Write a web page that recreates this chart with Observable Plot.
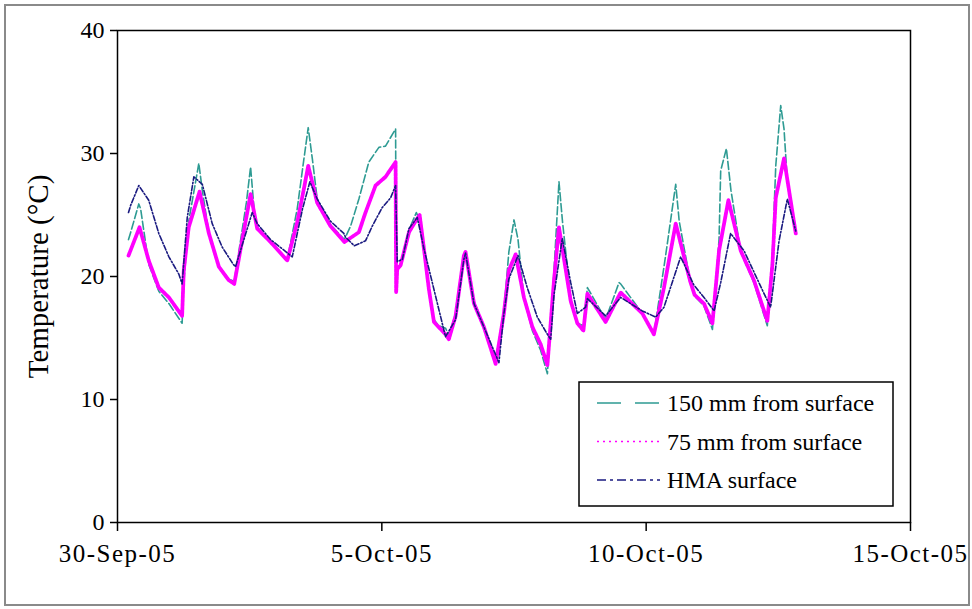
<!DOCTYPE html>
<html>
<head>
<meta charset="utf-8">
<script src="https://cdn.jsdelivr.net/npm/d3@7"></script>
<script src="https://cdn.jsdelivr.net/npm/@observablehq/plot@0.6"></script>
<style>
  html, body { margin: 0; padding: 0; background: #fff; }
  #wrap { position: relative; width: 972px; height: 609px; overflow: hidden; }
  #border { position: absolute; left: 4px; top: 4px; width: 962px; height: 598px;
            border: 2px solid #8a8a8a; pointer-events: none; }
  #wrap svg { position: absolute; left: 0; top: 0; }
  .xaxis text { letter-spacing: 1.5px; }
</style>
</head>
<body>
<div id="wrap"><div id="border"></div></div>
<script>
// Pavement temperatures, 30 Sep – 12 Oct 2005 (time "MM-DD HH:MM", °C)
const depth150 = [
  ["09-30 05:00", 23.0], ["09-30 06:00", 23.6], ["09-30 09:40", 25.9], ["09-30 10:30", 25.5],
  ["09-30 14:10", 21.0], ["09-30 18:45", 18.8], ["09-30 23:20", 17.8], ["10-01 05:20", 16.2],
  ["10-01 06:05", 19.5], ["10-01 08:20", 24.5], ["10-01 12:55", 29.2], ["10-01 14:30", 27.0],
  ["10-01 17:30", 23.5], ["10-01 22:00", 20.8], ["10-02 02:30", 19.8], ["10-02 05:00", 19.6],
  ["10-02 10:30", 26.0], ["10-02 12:25", 28.9], ["10-02 14:00", 25.5], ["10-02 15:25", 24.0],
  ["10-02 21:30", 22.8], ["10-03 05:05", 21.4], ["10-03 09:35", 25.5], ["10-03 12:35", 29.5],
  ["10-03 14:35", 32.1], ["10-03 16:30", 29.5], ["10-03 18:40", 26.3], ["10-04 00:40", 24.2],
  ["10-04 07:00", 23.0], ["10-04 09:50", 24.1], ["10-04 13:35", 26.3], ["10-04 18:05", 29.3],
  ["10-04 22:40", 30.5], ["10-05 01:40", 30.6], ["10-05 06:15", 32.0], ["10-05 06:30", 20.6],
  ["10-05 08:30", 21.0], ["10-05 12:20", 23.8], ["10-05 15:40", 25.2], ["10-05 17:10", 24.6],
  ["10-05 19:05", 22.2], ["10-05 21:20", 19.0], ["10-05 23:40", 16.5], ["10-06 01:45", 16.0],
  ["10-06 04:55", 15.8], ["10-06 06:25", 15.2], ["10-06 09:30", 17.0], ["10-06 13:15", 21.7],
  ["10-06 14:00", 22.0], ["10-06 17:50", 18.0], ["10-06 22:20", 16.0], ["10-07 03:40", 13.2],
  ["10-07 07:25", 17.2], ["10-07 09:40", 22.0], ["10-07 12:00", 24.6], ["10-07 13:50", 23.0],
  ["10-07 16:30", 18.3], ["10-07 20:20", 15.6], ["10-08 00:05", 14.0], ["10-08 03:10", 12.1],
  ["10-08 06:10", 20.5], ["10-08 08:25", 27.7], ["10-08 10:00", 24.5], ["10-08 13:45", 18.2],
  ["10-08 16:45", 16.2], ["10-08 19:30", 16.0], ["10-08 21:20", 19.1], ["10-09 05:35", 16.5],
  ["10-09 11:40", 19.5], ["10-09 12:25", 19.4], ["10-09 22:15", 17.0], ["10-10 03:30", 15.3],
  ["10-10 08:50", 21.7], ["10-10 13:25", 27.5], ["10-10 15:00", 24.5], ["10-10 20:00", 19.6],
  ["10-10 22:00", 18.4], ["10-11 02:15", 17.6], ["10-11 06:05", 15.7], ["10-11 09:05", 23.0],
  ["10-11 09:50", 28.6], ["10-11 12:25", 30.4], ["10-11 14:30", 27.0], ["10-11 18:55", 22.0],
  ["10-12 00:55", 19.5], ["10-12 07:00", 16.0], ["10-12 09:20", 22.0], ["10-12 10:50", 29.0],
  ["10-12 13:05", 33.9], ["10-12 14:35", 32.0], ["10-12 16:00", 28.0], ["10-12 19:55", 23.5]
];

const depth75 = [
  ["09-30 05:00", 21.7], ["09-30 10:00", 24.0], ["09-30 14:10", 21.3], ["09-30 18:45", 19.1],
  ["09-30 23:20", 18.3], ["10-01 05:20", 16.8], ["10-01 06:05", 20.5], ["10-01 08:20", 24.0],
  ["10-01 13:15", 26.9], ["10-01 17:30", 23.5], ["10-01 22:00", 20.8], ["10-02 02:30", 19.7],
  ["10-02 05:00", 19.4], ["10-02 12:25", 26.7], ["10-02 15:25", 23.9], ["10-02 21:30", 22.8],
  ["10-03 05:05", 21.3], ["10-03 09:35", 24.4], ["10-03 12:35", 27.1], ["10-03 14:35", 29.0],
  ["10-03 18:40", 26.0], ["10-04 00:40", 24.1], ["10-04 07:00", 22.8], ["10-04 13:35", 23.6],
  ["10-04 16:35", 25.2], ["10-04 21:10", 27.4], ["10-05 01:40", 28.1], ["10-05 06:15", 29.3],
  ["10-05 06:30", 18.7], ["10-05 07:00", 20.6], ["10-05 08:30", 20.9], ["10-05 12:20", 23.6],
  ["10-05 15:40", 24.6], ["10-05 17:10", 25.0], ["10-05 19:05", 22.3], ["10-05 21:20", 19.0],
  ["10-05 23:40", 16.3], ["10-06 04:55", 15.3], ["10-06 06:25", 14.9], ["10-06 09:30", 16.8],
  ["10-06 13:15", 21.7], ["10-06 14:00", 22.0], ["10-06 17:50", 17.8], ["10-06 22:20", 15.9],
  ["10-07 03:40", 12.9], ["10-07 07:25", 17.0], ["10-07 09:40", 20.5], ["10-07 12:45", 21.8],
  ["10-07 16:30", 18.3], ["10-07 20:20", 15.9], ["10-08 00:05", 14.5], ["10-08 03:10", 12.8],
  ["10-08 06:10", 19.7], ["10-08 08:25", 24.0], ["10-08 13:45", 18.0], ["10-08 16:45", 16.2],
  ["10-08 19:30", 15.6], ["10-08 21:20", 18.6], ["10-09 05:35", 16.3], ["10-09 12:25", 18.7],
  ["10-09 22:15", 17.0], ["10-10 03:30", 15.3], ["10-10 08:05", 19.1], ["10-10 13:25", 24.3],
  ["10-10 20:00", 19.6], ["10-10 22:00", 18.5], ["10-11 02:15", 17.8], ["10-11 06:05", 16.2],
  ["10-11 09:05", 22.1], ["10-11 13:20", 26.2], ["10-11 18:55", 22.1], ["10-12 00:55", 19.7],
  ["10-12 07:00", 16.4], ["10-12 09:20", 21.0], ["10-12 10:50", 26.4], ["10-12 14:35", 29.6],
  ["10-12 19:55", 23.5]
];

const hmaSurface = [
  ["09-30 05:00", 25.2], ["09-30 06:00", 25.8], ["09-30 09:40", 27.4], ["09-30 14:10", 26.2],
  ["09-30 18:45", 23.5], ["09-30 23:20", 21.6], ["10-01 03:50", 20.2], ["10-01 05:20", 19.4],
  ["10-01 07:40", 24.8], ["10-01 10:40", 28.1], ["10-01 14:30", 27.5], ["10-01 19:00", 24.3],
  ["10-01 23:30", 22.4], ["10-02 04:30", 21.0], ["10-02 05:35", 20.8], ["10-02 13:10", 25.2],
  ["10-02 15:25", 24.3], ["10-02 21:30", 23.0], ["10-03 07:20", 21.6], ["10-03 12:00", 25.5],
  ["10-03 15:20", 27.7], ["10-03 18:40", 26.3], ["10-04 00:40", 24.5], ["10-04 06:45", 23.5],
  ["10-04 07:30", 23.2], ["10-04 11:30", 22.5], ["10-04 16:35", 22.9], ["10-04 19:40", 24.1],
  ["10-05 00:10", 25.6], ["10-05 04:00", 26.4], ["10-05 06:15", 27.4], ["10-05 07:00", 21.2],
  ["10-05 09:20", 21.4], ["10-05 12:20", 23.9], ["10-05 16:05", 24.8], ["10-05 19:05", 22.3],
  ["10-06 04:55", 15.1], ["10-06 09:30", 16.5], ["10-06 13:15", 21.4], ["10-06 14:00", 21.9],
  ["10-06 17:50", 17.8], ["10-06 22:20", 15.9], ["10-07 05:10", 13.0], ["10-07 07:25", 17.0],
  ["10-07 09:40", 19.8], ["10-07 13:50", 21.7], ["10-07 18:00", 19.1], ["10-07 22:35", 16.7],
  ["10-08 03:10", 15.3], ["10-08 04:40", 14.9], ["10-08 06:10", 18.5], ["10-08 09:55", 23.1],
  ["10-08 13:45", 19.5], ["10-08 16:45", 17.0], ["10-08 20:30", 17.5], ["10-08 21:20", 18.2],
  ["10-09 05:35", 16.8], ["10-09 12:25", 18.3], ["10-09 22:15", 17.2], ["10-10 04:20", 16.7],
  ["10-10 08:05", 17.5], ["10-10 15:40", 21.6], ["10-10 21:40", 19.3], ["10-11 02:15", 18.3],
  ["10-11 06:50", 17.2], ["10-11 09:50", 19.5], ["10-11 14:20", 23.5], ["10-11 20:25", 22.1],
  ["10-12 04:45", 18.9], ["10-12 08:30", 17.5], ["10-12 12:20", 22.9], ["10-12 16:05", 26.3],
  ["10-12 19:55", 23.7]
];

const xTickLabels = ["2005-09-30", "2005-10-05", "2005-10-10", "2005-10-15"];
const yTicks = [0, 10, 20, 30, 40];

const seriesNames = ["150 mm from surface", "75 mm from surface", "HMA surface"];
const seriesColors = ["#2e9b93", "#ff00ff", "#1a1a80"];

const parseTime = d3.utcParse("%Y-%m-%d %H:%M");
const parseDay = d3.utcParse("%Y-%m-%d");
const toRows = (arr) => arr.map(([t, v]) => ({ time: parseTime("2005-" + t), value: v }));
const rows150 = toRows(depth150);
const rows75 = toRows(depth75);
const rowsHMA = toRows(hmaSurface);
const xTicks = xTickLabels.map(parseDay);
const fmt = d3.utcFormat("%-d-%b-%y");

const serif = "'Liberation Serif', 'Times New Roman', serif";

const chart = Plot.plot({
  width: 972,
  height: 609,
  marginLeft: 117,
  marginRight: 62,
  marginTop: 30,
  marginBottom: 87,
  style: { fontFamily: serif, fontSize: "24px", color: "#000", background: "transparent", overflow: "visible" },
  x: { type: "utc", domain: [xTicks[0], xTicks[3]] },
  y: { domain: [0, 40] },
  marks: [
    Plot.frame({ stroke: "#000", strokeWidth: 1.5 }),
    Plot.axisY({ ticks: yTicks, tickSize: 7, tickPadding: 6, label: null, fontSize: 24, strokeWidth: 1.5 }),
    Plot.axisX({ ticks: xTicks, tickSize: 9, tickPadding: 13, label: null, fontSize: 25,
                 tickFormat: fmt, strokeWidth: 1.5, className: "xaxis" }),
    Plot.text(["Temperature (°C)"], { frameAnchor: "left", textAnchor: "middle", rotate: -90,
                                      dx: -79, fontSize: 29 }),
    Plot.line(rows150, { x: "time", y: "value", stroke: seriesColors[0], strokeWidth: 1.6,
                         strokeDasharray: "8 3" }),
    Plot.line(rows75, { x: "time", y: "value", stroke: seriesColors[1], strokeWidth: 3.8,
                        strokeDasharray: "3 1" }),
    Plot.line(rowsHMA, { x: "time", y: "value", stroke: seriesColors[2], strokeWidth: 1.6,
                         strokeDasharray: "5 2 1.5 2" })
  ]
});

document.getElementById("wrap").appendChild(chart);

// Legend box inside the plot area, lower right
const svg = d3.select(chart);
const lg = svg.append("g").attr("font-family", serif).attr("font-size", 24)
  .attr("text-anchor", "start");
lg.append("rect")
  .attr("x", 579).attr("y", 382).attr("width", 314).attr("height", 124)
  .attr("fill", "#fff").attr("stroke", "#000").attr("stroke-width", 1.5);
const sampleDash = ["24 14", "2 4", "9 4 3 4"];
seriesNames.forEach((name, i) => {
  const y = 403 + i * 38.5;
  lg.append("line")
    .attr("x1", 597).attr("x2", 660).attr("y1", y).attr("y2", y)
    .attr("stroke", seriesColors[i]).attr("stroke-width", 1.6)
    .attr("stroke-dasharray", sampleDash[i]);
  lg.append("text")
    .attr("x", 667).attr("y", y).attr("dy", "0.35em")
    .attr("text-anchor", "start").attr("fill", "#000").text(name);
});
</script>
</body>
</html>
